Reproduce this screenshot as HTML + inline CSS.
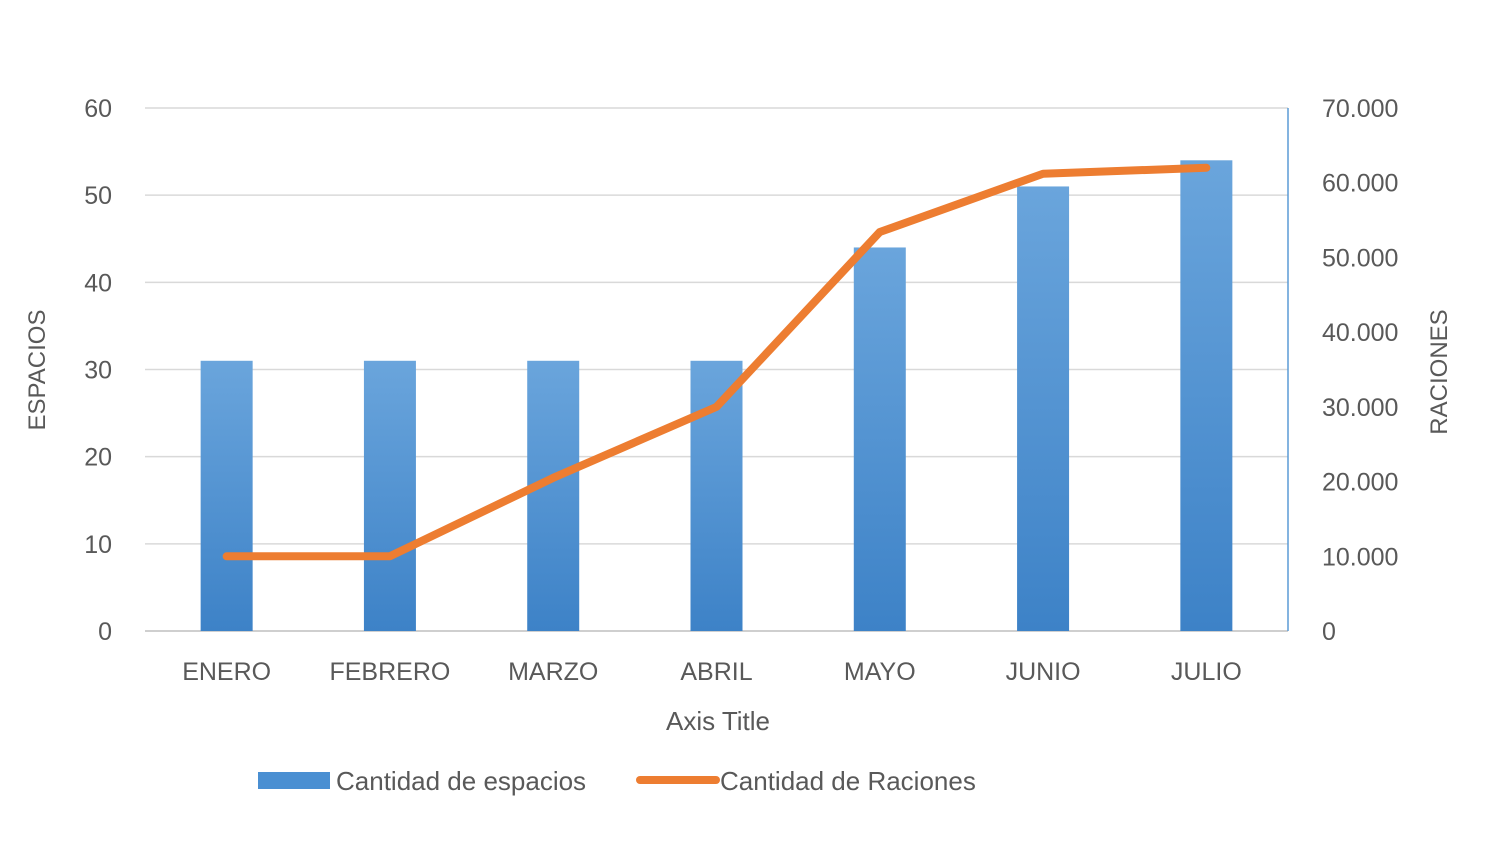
<!DOCTYPE html>
<html><head><meta charset="utf-8"><style>
html,body{margin:0;padding:0;background:#fff;}
svg text{font-family:"Liberation Sans",sans-serif;fill:#595959;}
</style></head><body>
<svg width="1500" height="863" viewBox="0 0 1500 863">
<defs><linearGradient id="bg" x1="0" y1="0" x2="0" y2="1"><stop offset="0" stop-color="#6aa5dc"/><stop offset="1" stop-color="#3d82c7"/></linearGradient></defs>
<g id="grid"></g>
<g id="bars"></g>
<g id="line"></g>
<g id="axes"></g>
<text x="45" y="370" font-size="24" text-anchor="middle" transform="rotate(-90 45 370)">ESPACIOS</text>
<text x="1447" y="372" font-size="24" text-anchor="middle" transform="rotate(-90 1447 372)">RACIONES</text>
<text x="718" y="730" font-size="26" text-anchor="middle">Axis Title</text>
<g>
<rect x="258" y="772" width="72" height="17" fill="#4a8fd2"/>
<text x="336" y="790" font-size="26">Cantidad de espacios</text>
<line x1="640" y1="780" x2="716" y2="780" stroke="#ed7d31" stroke-width="8" stroke-linecap="round"/>
<text x="720" y="790" font-size="26">Cantidad de Raciones</text>
</g>
</svg>
<script>
const categories=["ENERO","FEBRERO","MARZO","ABRIL","MAYO","JUNIO","JULIO"];
const espacios=[31,31,31,31,44,51,54];
const raciones=[10000,10000,20500,30000,53400,61200,62000];
const leftTicks=[0,10,20,30,40,50,60];
const rightTicks=["0","10.000","20.000","30.000","40.000","50.000","60.000","70.000"];
const NS="http://www.w3.org/2000/svg";
const x0=145,x1=1288,yB=631,yT=108;
const band=(x1-x0)/categories.length;
const xc=i=>x0+band*(i+0.5);
const yL=v=>yB-(v/60)*(yB-yT);
const yR=v=>yB-(v/70000)*(yB-yT);
function mk(t,a,p){const e=document.createElementNS(NS,t);for(const k in a)e.setAttribute(k,a[k]);p.appendChild(e);return e;}
const grid=document.getElementById('grid'),bars=document.getElementById('bars'),line=document.getElementById('line'),axes=document.getElementById('axes');
leftTicks.forEach(v=>{
 const l=mk('line',{x1:x0,x2:x1,y1:yL(v),y2:yL(v),stroke:v===0?'#bfbfbf':'#d9d9d9','stroke-width':1.5},grid);
 
 
 const t=mk('text',{x:112,y:yL(v)+9,'font-size':25,'text-anchor':'end'},axes);t.textContent=v;
 
 
});
rightTicks.forEach((s,i)=>{
 const t=mk('text',{x:1322,y:yR(i*10000)+9,'font-size':25},axes);t.textContent=s;
 
 
});
const ra=mk('line',{x1:x1,x2:x1,y1:yT,y2:yB,stroke:'#5b9bd5','stroke-width':1.5},axes);


categories.forEach((c,i)=>{
 const b=mk('rect',{x:xc(i)-26,y:yL(espacios[i]),width:52,height:yB-yL(espacios[i]),fill:'url(#bg)'},bars);
 
 
 const t=mk('text',{x:xc(i),y:680,'font-size':25,'text-anchor':'middle'},axes);t.textContent=c;
 
 
});
const pl=mk('polyline',{points:raciones.map((v,i)=>xc(i)+','+yR(v)).join(' '),fill:'none',stroke:'#ed7d31','stroke-width':8,'stroke-linejoin':'round','stroke-linecap':'round'},line);


</script>
</body></html>
